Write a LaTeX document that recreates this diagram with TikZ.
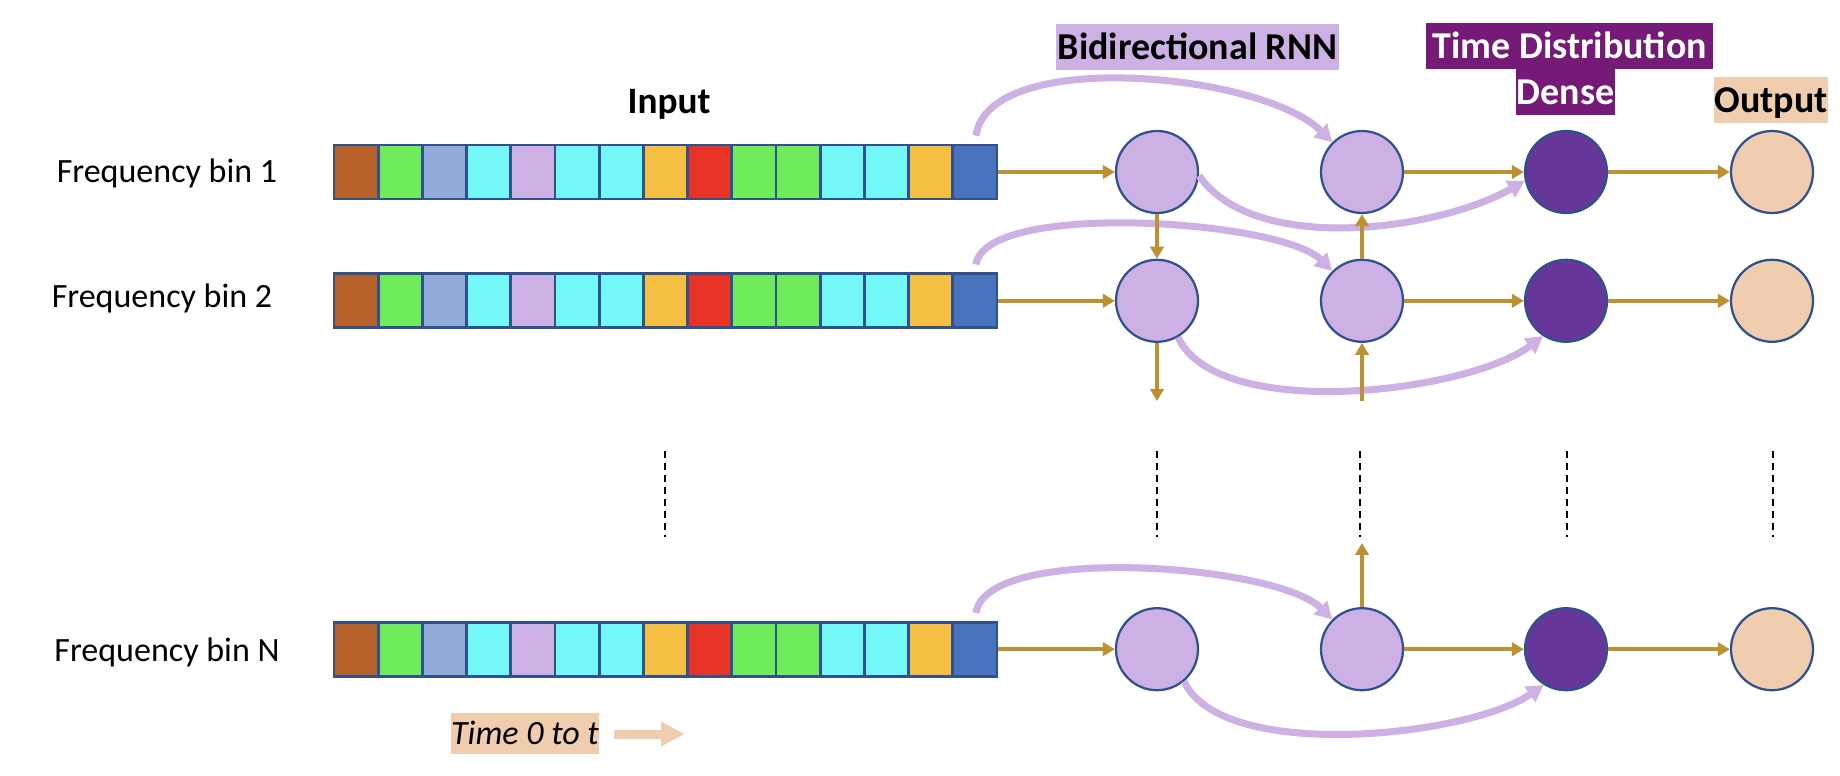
\documentclass[tikz,border=0pt]{standalone}
\usepackage{fontspec}
\setmainfont{Carlito}
\usetikzlibrary{arrows.meta}

\definecolor{cellbrown}{HTML}{B8612A}
\definecolor{cellgreen}{HTML}{6EEC5C}
\definecolor{cellgrey}{HTML}{94AAD9}
\definecolor{cellcyan}{HTML}{74F8F7}
\definecolor{lav}{HTML}{CEB1E4}
\definecolor{cellorange}{HTML}{F4BF43}
\definecolor{cellred}{HTML}{E83427}
\definecolor{cellblue}{HTML}{4A72BD}
\definecolor{edge}{HTML}{2F528F}
\definecolor{gold}{HTML}{BE9030}
\definecolor{dense}{HTML}{663798}
\definecolor{densehead}{HTML}{761A78}
\definecolor{peach}{HTML}{F1CDB0}

\begin{document}
\begin{tikzpicture}[
  font=\fontsize{24.2}{29}\selectfont,
  cell/.style = {draw=edge, line width=2pt, minimum width=1.105cm, minimum height=1.35cm, inner sep=0},
  unit/.style = {circle, draw=edge, line width=1.6pt, minimum size=2.05cm, inner sep=0},
  head/.style = {inner sep=0, minimum height=1.15cm, text height=0.61cm, text depth=0pt,
                 font=\bfseries\fontsize{27}{32}\selectfont},
  garrow/.style = {gold, line width=2.8pt, -{Triangle[length=8.5pt,width=9.5pt]}},
  rnnarc/.style = {lav, line width=5pt, -{Triangle[length=12pt,width=13pt]}},
  vdots/.style = {black, line width=1.4pt, dash pattern=on 5pt off 3.5pt},
  ]
  \useasboundingbox (0,0) rectangle (46,-19.4);

  % headers
  \node[anchor=base, font=\bfseries\fontsize{26.5}{32}\selectfont] (inp) at (16.725,-2.825) {Input};
  \node[head, fill=lav, minimum width=7.075cm] (hbi) at (29.94,-1.175) {Bidirectional RNN};
  \node[head, fill=densehead, text=white, minimum width=7.175cm] (htd) at (39.24,-1.15) {Time Distribution};
  \node[head, fill=densehead, text=white, minimum width=2.475cm] (hde) at (39.14,-2.3) {Dense};
  \node[head, fill=peach, minimum width=2.85cm] (hout) at (44.275,-2.5) {Output};

  \node[anchor=base] (lab1) at (4.175,-4.55) {Frequency bin 1};
  \node[anchor=base] (lab2) at (4.05,-7.675) {Frequency bin 2};
  \node[anchor=base] (labN) at (4.175,-16.525) {Frequency bin N};

  % rows: input strip and units
  \foreach \r/\y in {1/-4.3, 2/-7.52, N/-16.23}{
    \foreach \c [count=\i] in {cellbrown,cellgreen,cellgrey,cellcyan,lav,cellcyan,cellcyan,
                               cellorange,cellred,cellgreen,cellgreen,cellcyan,cellcyan,cellorange,cellblue}
      \node[cell, fill=\c] (s\r-\i) at (7.7975+1.105*\i,\y) {};
    \node[unit, fill=lav] (f\r) at (28.925,\y) {};
    \node[unit, fill=lav] (b\r) at (34.05,\y) {};
    \node[unit, fill=dense] (d\r) at (39.15,\y) {};
    \node[unit, fill=peach] (o\r) at (44.3,\y) {};
  }

  % forward / backward links
  \foreach \r/\l in {1/0.7, 2/0.52, N/0.56}
    \draw[rnnarc, shorten <=0.2cm] (s\r-15.north) to[out=82,in=135,looseness=\l] (b\r.135);
  \draw[rnnarc] (f1.-5) to[out=-55,in=210,looseness=0.77] (d1.192);
  \draw[rnnarc] (f2.-60) to[out=-65,in=217,looseness=0.66] (d2.237);
  \draw[rnnarc] (fN.-50) to[out=-65,in=215,looseness=0.64] (dN.238);

  \foreach \r in {1,2,N}{
    \draw[garrow] (s\r-15.east) -- (f\r);
    \draw[garrow] (b\r) -- (d\r);
    \draw[garrow] (d\r) -- (o\r);
  }

  \coordinate (fdown) at (28.925,-10.025);
  \coordinate (bup) at (34.05,-10.025);
  \coordinate (bNup) at (34.05,-13.575);
  \draw[garrow] (f1) -- (f2);
  \draw[garrow] (f2) -- (fdown);
  \draw[garrow] (b2) -- (b1);
  \draw[garrow] (bup) -- (b2);
  \draw[garrow] (bN) -- (bNup);

  % skipped rows
  \foreach \x in {16.625,28.925,34.0,39.175,44.325}
    \draw[vdots] (\x,-11.275) -- (\x,-13.425);

  % time axis
  \node[fill=peach, minimum width=3.7cm, minimum height=1.025cm, inner sep=0,
        text height=0.55cm, text depth=0pt, font=\itshape\fontsize{24.2}{29}\selectfont] (tlab) at (13.125,-18.34) {Time 0 to t};
  \coordinate (t0) at (15.35,-18.35);
  \coordinate (t1) at (17.125,-18.35);
  \draw[peach, line width=0.225cm, -{Triangle[length=0.6cm,width=0.575cm]}] (t0) -- (t1);

\end{tikzpicture}
\end{document}
